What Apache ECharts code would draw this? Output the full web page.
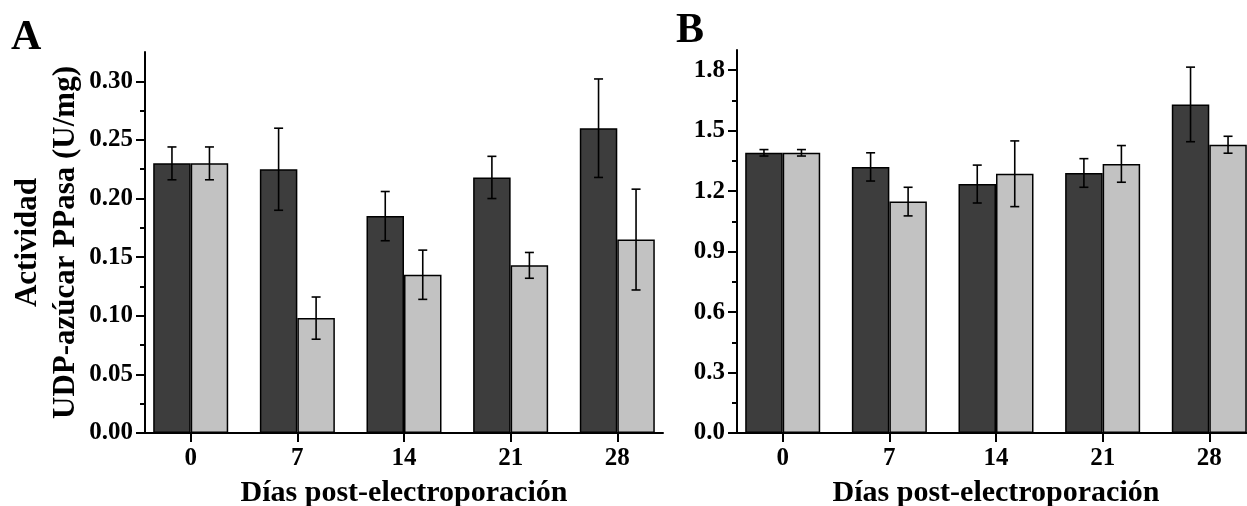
<!DOCTYPE html>
<html>
<head>
<meta charset="utf-8">
<script src="https://cdn.jsdelivr.net/npm/echarts@6/dist/echarts.min.js"></script>
<style>
  html, body { margin: 0; padding: 0; background: #fff; }
  #chart { width: 1247px; height: 506px; }
</style>
</head>
<body>
<div id="chart"></div>
<script>
// días post-electroporación
var dias = [0, 7, 14, 21, 28];

// panel A - actividad UDP-azúcar PPasa (U/mg)
var a_oscuro = [0.230, 0.225, 0.185, 0.218, 0.260];
var a_oscuro_err = [0.014, 0.035, 0.021, 0.018, 0.042];
var a_claro = [0.230, 0.098, 0.135, 0.143, 0.165];
var a_claro_err = [0.014, 0.018, 0.021, 0.011, 0.043];
var a_ticks = [0, 0.05, 0.10, 0.15, 0.20, 0.25, 0.30];
var a_minor = [0.025, 0.075, 0.125, 0.175, 0.225, 0.275];

// panel B
var b_oscuro = [1.39, 1.32, 1.235, 1.29, 1.63];
var b_oscuro_err = [0.016, 0.07, 0.094, 0.071, 0.185];
var b_claro = [1.39, 1.148, 1.286, 1.335, 1.43];
var b_claro_err = [0.016, 0.071, 0.163, 0.091, 0.042];
var b_ticks = [0, 0.3, 0.6, 0.9, 1.2, 1.5, 1.8];
var b_minor = [0.15, 0.45, 0.75, 1.05, 1.35, 1.65];

var FONT = '"Liberation Serif", "Times New Roman", serif';
var COLOR_OSCURO = '#3d3d3d';
var COLOR_CLARO = '#c2c2c2';
var BAR_W = 37.5;

function pares(vals) {
	return dias.map(function (d, i) { return [d, vals[i]]; });
}

function errores(vals, errs) {
	return dias.map(function (d, i) { return [d, vals[i] - errs[i], vals[i] + errs[i]]; });
}

// barra de error (custom) desplazada dx px del centro de la categoria
function serie_error(idx, data, dx) {
	return {
		type: 'custom',
		xAxisIndex: idx,
		yAxisIndex: idx * 2,
		data: data,
		encode: { x: 0, y: [1, 2] },
		z: 5,
		silent: true,
		renderItem: function (params, api) {
			var lo = api.coord([api.value(0), api.value(1)]);
			var hi = api.coord([api.value(0), api.value(2)]);
			var x = lo[0] + dx;
			var cap = 4.5;
			var st = { stroke: '#000', lineWidth: 1.6 };
			return {
				type: 'group',
				children: [
					{ type: 'line', shape: { x1: x, y1: lo[1], x2: x, y2: hi[1] }, style: st },
					{ type: 'line', shape: { x1: x - cap, y1: lo[1], x2: x + cap, y2: lo[1] }, style: st },
					{ type: 'line', shape: { x1: x - cap, y1: hi[1], x2: x + cap, y2: hi[1] }, style: st }
				]
			};
		}
	};
}

function serie_barra(idx, data, color) {
	return {
		type: 'bar',
		xAxisIndex: idx,
		yAxisIndex: idx * 2,
		data: data,
		barWidth: BAR_W,
		barGap: '0%',
		itemStyle: { color: color, borderColor: '#000', borderWidth: 1.5 },
		silent: true
	};
}

var label_style = { color: '#000', fontFamily: FONT, fontWeight: 'bold', fontSize: 25 };

function eje_x(idx) {
	return {
		type: 'value',
		gridIndex: idx,
		min: -3,
		max: 31,
		name: 'Días post-electroporación',
		nameLocation: 'middle',
		nameGap: 45,
		nameTextStyle: { color: '#000', fontFamily: FONT, fontWeight: 'bold', fontSize: 30 },
		splitLine: { show: false },
		axisLine: { show: true, onZero: false, lineStyle: { color: '#000', width: 2 } },
		axisTick: { show: true, customValues: dias, length: 9, lineStyle: { color: '#000', width: 2 } },
		axisLabel: Object.assign({ customValues: dias, margin: 13 }, label_style)
	};
}

function ejes_y(idx, max, ticks, minor, dec, name) {
	return [{
		type: 'value',
		gridIndex: idx,
		position: 'left',
		min: 0,
		max: max,
		name: name,
		nameLocation: 'middle',
		nameRotate: 90,
		nameGap: 58,
		nameTextStyle: { color: '#000', fontFamily: FONT, fontWeight: 'bold', fontSize: 31, lineHeight: 38 },
		splitLine: { show: false },
		axisLine: { show: true, onZero: false, lineStyle: { color: '#000', width: 2 } },
		axisTick: { show: true, customValues: ticks, length: 9, lineStyle: { color: '#000', width: 2 } },
		axisLabel: Object.assign({
			customValues: ticks,
			margin: 12,
			formatter: function (v) { return v.toFixed(dec); }
		}, label_style)
	}, {
		// ticks menores
		type: 'value',
		gridIndex: idx,
		position: 'left',
		min: 0,
		max: max,
		splitLine: { show: false },
		axisLine: { show: false, onZero: false },
		axisTick: { show: true, customValues: minor, length: 5, lineStyle: { color: '#000', width: 2 } },
		axisLabel: { show: false }
	}];
}

var myChart = echarts.init(document.getElementById('chart'));

var option = {
	backgroundColor: '#fff',
	animation: false,
	graphic: [
		{ type: 'text', left: 11, top: 17, style: { text: 'A', fontFamily: FONT, fontWeight: 'bold', fontSize: 42, fill: '#000' } },
		{ type: 'text', left: 676, top: 10, style: { text: 'B', fontFamily: FONT, fontWeight: 'bold', fontSize: 42, fill: '#000' } }
	],
	grid: [
		{ left: 145, top: 52, right: 584, bottom: 73, outerBoundsMode: 'none', containLabel: false },
		{ left: 737, top: 50, right: -8, bottom: 73, outerBoundsMode: 'none', containLabel: false }
	],
	xAxis: [eje_x(0), eje_x(1)],
	yAxis: ejes_y(0, 0.325, a_ticks, a_minor, 2, 'Actividad\nUDP-azúcar PPasa (U/mg)')
		.concat(ejes_y(1, 1.9, b_ticks, b_minor, 1, '')),
	series: [
		serie_barra(0, pares(a_oscuro), COLOR_OSCURO),
		serie_barra(0, pares(a_claro), COLOR_CLARO),
		serie_error(0, errores(a_oscuro, a_oscuro_err), -BAR_W / 2),
		serie_error(0, errores(a_claro, a_claro_err), BAR_W / 2),
		serie_barra(1, pares(b_oscuro), COLOR_OSCURO),
		serie_barra(1, pares(b_claro), COLOR_CLARO),
		serie_error(1, errores(b_oscuro, b_oscuro_err), -BAR_W / 2),
		serie_error(1, errores(b_claro, b_claro_err), BAR_W / 2)
	]
};

myChart.setOption(option);
</script>
</body>
</html>
